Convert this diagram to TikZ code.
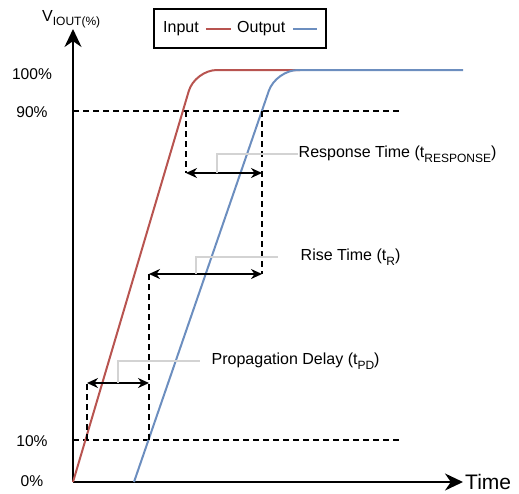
\documentclass[tikz,border=0pt]{standalone}
\usepackage{fontspec}
\setmainfont{Liberation Sans}
\usetikzlibrary{arrows.meta, positioning}
\definecolor{inputred}{HTML}{B85450}
\definecolor{outputblue}{HTML}{6C8EBF}
\definecolor{calloutgray}{HTML}{D3D3D3}
\newcommand{\lowidx}[1]{\raisebox{-0.3em}{\fontsize{12}{14}\selectfont #1}}

\begin{document}
\begin{tikzpicture}[x=1pt, y=-1pt, font=\fontsize{16}{19}\selectfont,
  axis/.style={line width=2pt, -{Stealth[length=18pt,width=17pt]}},
  guide/.style={line width=1.5pt, dash pattern=on 6pt off 4pt},
  span/.style={line width=2pt, {Stealth[length=11pt,width=10pt]}-{Stealth[length=11pt,width=10pt]}},
  callout/.style={line width=2pt, draw=calloutgray},
  signal/.style={line width=2pt, rounded corners=22pt},
  note/.style={anchor=west, inner sep=0.5pt}]
  \useasboundingbox (0,0) rectangle (519,493);

  % axes
  \coordinate (origin) at (73,482);
  \coordinate (ytip) at (73,29);
  \coordinate (xtip) at (463,482);
  \draw[axis] (origin) -- (ytip);
  \draw[axis] (origin) -- (xtip);
  \node[anchor=base west, inner sep=0] (vlabel) at (42,21) {V\lowidx{IOUT(\%)}};
  \node[right=2pt of xtip, inner sep=0, font=\fontsize{21}{24}\selectfont] (tlabel) {Time};
  \foreach \lvl/\y in {0/481,10/441,90/112,100/73.5}
    \node[anchor=base, inner sep=0, font=\fontsize{15.6}{18}\selectfont] (lab\lvl) at (32,{\y+5.5}) {\lvl\%};

  % 10% and 90% levels
  \draw[guide] (73,111) -- (400,111);
  \draw[guide] (73,440) -- (400,440);

  % signals
  \draw[signal, inputred] (origin) -- (195,70) -- (300,70);
  \draw[signal, outputblue] (134,482) -- (276,70) -- (463,70);

  % crossing points
  \coordinate (in10) at (87,440);
  \coordinate (out10) at (149,440);
  \coordinate (in90) at (186,111);
  \coordinate (out90) at (262,111);
  \coordinate (pdl) at (87,383);
  \coordinate (pdr) at (149,383);
  \coordinate (rsl) at (149,274);
  \coordinate (rsr) at (262,274);
  \coordinate (rpl) at (186,173);
  \coordinate (rpr) at (262,173);
  \draw[guide] (in10) -- (pdl);
  \draw[guide] (out10) -- (rsl);
  \draw[guide] (in90) -- (rpl);
  \draw[guide] (out90) -- (rsr);

  % spans
  \draw[span] (pdl) -- (pdr);
  \draw[span] (rsl) -- (rsr);
  \draw[span] (rpl) -- (rpr);

  % notes
  \node[note] (resp) at (298,154) {Response Time (t\lowidx{RESPONSE})};
  \node[note] (rise) at (300,257) {Rise Time (t\lowidx{R})};
  \node[note] (prop) at (211,361) {Propagation Delay (t\lowidx{PD})};
  \draw[callout] (217,173) |- (resp.west);
  \draw[callout] (196,274) |- (278,257);
  \draw[callout] (118,383) |- (200,361);

  % legend
  \node[draw, line width=2pt, minimum width=172pt, minimum height=39pt] (legend) at (240,28.5) {};
  \node[anchor=west, inner sep=0] (inlab) at (163,29) {Input};
  \node[anchor=west, inner sep=0] (outlab) at (237,29) {Output};
  \draw[inputred, line width=2pt] ([xshift=7pt]inlab.east) -- ([xshift=-6pt]outlab.west);
  \draw[outputblue, line width=2pt] ([xshift=8pt]outlab.east) -- ++(24,0);
\end{tikzpicture}
\end{document}
